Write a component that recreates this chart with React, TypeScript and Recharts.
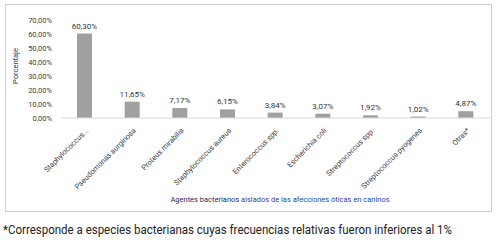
import { BarChart, Bar, XAxis, YAxis, LabelList } from 'recharts';

const AGENTES = [
  'Staphylococcus...',
  'Pseudomonas aurginosa',
  'Proteus mirabilis',
  'Staphylococcus aureus',
  'Enterococcus spp.',
  'Escherichia coli',
  'Streptococcus spp.',
  'Streptococcus pyogenes',
  'Otras*',
];

const PORCENTAJES = [60.3, 11.65, 7.17, 6.15, 3.84, 3.07, 1.92, 1.02, 4.87];

const Y_TICKS = [0, 10, 20, 30, 40, 50, 60, 70];

const FONT = '"Liberation Sans Narrow", "Roboto", "Liberation Sans", sans-serif';

const data = AGENTES.map((name, i) => ({ name, value: PORCENTAJES[i] }));

const fmt = (v: number) => `${v.toFixed(2).replace('.', ',')}%`;

function AgentTick(props: any) {
  const { x, y, payload } = props;
  return (
    <g transform={`translate(${x + 4},${y + 5})`}>
      <text
        x={0}
        y={0}
        transform="rotate(-45)"
        textAnchor="end"
        fontSize={7.5}
        fontFamily={FONT}
        fill="#404040"
      >
        {payload.value}
      </text>
    </g>
  );
}

export default function App() {
  return (
    <div style={{ position: 'absolute', left: 0, top: 0, width: 497, height: 242, background: '#fff', fontFamily: FONT }}>
      <div
        style={{
          position: 'absolute',
          left: 5,
          top: 4,
          width: 485,
          height: 206,
          border: '1px solid #cfcfcf',
        }}
      />
      <div style={{ position: 'absolute', left: 0, top: 0 }}>
        <BarChart width={497} height={215} data={data} margin={{ top: 20, right: 7, bottom: 0, left: 0 }}>
          <YAxis
            width={61}
            domain={[0, 70]}
            ticks={Y_TICKS}
            interval={0}
            tickFormatter={fmt}
            axisLine={false}
            tickLine={false}
            tickSize={0}
            tickMargin={9}
            tick={{ fontSize: 7.5, fill: '#404040', fontFamily: FONT }}
          />
          <XAxis
            dataKey="name"
            height={97}
            interval={0}
            axisLine={{ stroke: '#d9d9d9' }}
            tickLine={false}
            tick={<AgentTick />}
          />
          <Bar dataKey="value" fill="#a0a0a0" barSize={15} isAnimationActive={false}>
            <LabelList
              dataKey="value"
              position="top"
              formatter={(v: any) => fmt(Number(v))}
              style={{ fontSize: 8, fill: '#333', fontFamily: FONT }}
            />
          </Bar>
        </BarChart>
      </div>
      <div
        style={{
          position: 'absolute',
          left: 15,
          top: 66,
          transform: 'translate(-50%, -50%) rotate(-90deg)',
          fontSize: 7.5,
          color: '#404040',
          whiteSpace: 'nowrap',
        }}
      >
        Porcentaje
      </div>
      <div
        style={{
          position: 'absolute',
          left: 280,
          top: 199,
          transform: 'translate(-50%, -50%)',
          fontSize: 7.5,
          whiteSpace: 'nowrap',
        }}
      >
        <span style={{ color: '#1f2a5c' }}>Agentes bacterianos </span>
        <span style={{ color: '#4a3a7a' }}>aislados de </span>
        <span style={{ color: '#1f4a9a' }}>las afecciones óticas en caninos</span>
      </div>
      <div
        style={{
          position: 'absolute',
          left: 3,
          top: 229,
          transform: 'translateY(-50%) scaleX(0.92)',
          transformOrigin: 'left center',
          fontSize: 12.5,
          color: '#222',
          whiteSpace: 'nowrap',
        }}
      >
        *Corresponde a especies bacterianas cuyas frecuencias relativas fueron inferiores al 1%
      </div>
    </div>
  );
}
